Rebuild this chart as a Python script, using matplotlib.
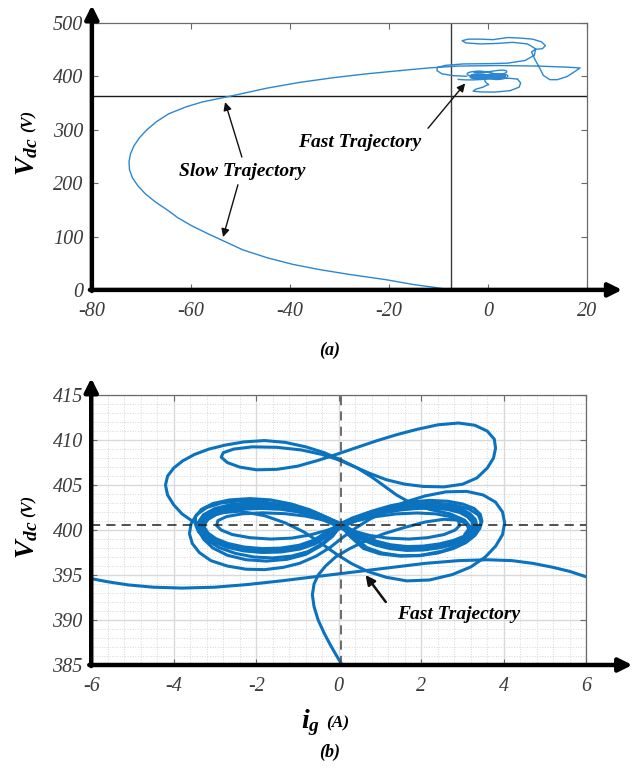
"""Vdc vs ig phase-plane trajectories: (a) full start-up, (b) zoom on the fast trajectory."""

import matplotlib.pyplot as plt
from matplotlib.ticker import MultipleLocator, AutoMinorLocator

# ============================================================================
# DATA
# ============================================================================

# (a) slow trajectory, from start-up (bottom) round the left nose to the tangle
slow_x = [-7.6, -11, -15, -20.5, -28, -34, -39.5, -44.5, -49.5, -53, -56.5, -59.8, -62.6,
          -64.8, -67.2, -69.2, -70.7, -71.8, -72.4, -72.5, -72.2, -71.5, -70.4, -68.9,
          -67.0, -64.5, -61.0, -57.8, -52.1, -44.7, -38, -31, -24.5, -17.8]
slow_v = [0, 5, 10, 19, 29, 38, 48, 60, 75, 90, 105, 120, 135,
          150, 165, 180, 195, 210, 225, 240, 255, 270, 285, 300,
          315, 330, 343, 352, 363, 378, 389, 398, 405, 411]

# (a) the wandering part before settling
tangle_x = [-17.8, -12, -6, 2, 10, 16, 18.6, 17.5, 16, 14, 12.5, 11.2, 10.5, 9.6,
            8.8, 9.6, 11.0, 11.6, 10.8, 9.0, 6.5, 4.0, 1.0, -1.5, -4.0, -5.2, -4.5,
            -1.5, 2.0, 5.0, 8.0, 9.6, 9.4, 7.5, 4.0, 0.0, -5.0, -8.5, -10.2, -10.3,
            -9.3, -7.0, -4.3]
tangle_v = [411, 416, 419.5, 420.5, 419.5, 417.5, 416, 409, 400, 394, 394, 402, 415, 430,
            446, 451, 452, 458, 465, 470, 472, 473, 469, 470, 470, 467, 463,
            461, 462, 464, 461, 452, 440, 430, 425, 424, 423.5, 421, 417, 411,
            405, 401.5, 400.5]
low_loop_x = [6.0, 6.6, 6.3, 4.5, 1.5, -1.5, -3.0, -2.5, -1.0, 0.08]
low_loop_v = [394.8, 388, 380, 373.5, 370.8, 371, 372.5, 376, 380, 385]

# (b) fast trajectory pieces
entry_x = [-6.0, -5.6, -5.1, -4.5, -3.8, -3.0, -2.2, -1.4, -0.6, 0.3, 1.2, 2.1, 2.9, 3.6,
           4.2, 4.7, 5.2, 5.6, 6.0]
entry_v = [394.6, 394.25, 393.9, 393.65, 393.55, 393.65, 393.95, 394.35, 394.8, 395.3,
           395.8, 396.3, 396.6, 396.7, 396.6, 396.3, 395.85, 395.4, 394.8]

rise_x = [0.08, -0.05, -0.2, -0.35, -0.5, -0.6, -0.64, -0.6, -0.5, -0.32, -0.08, 0.25,
          0.65, 1.1, 1.6, 2.1, 2.55, 2.9, 3.1, 3.15, 3.05]
rise_v = [385.0, 386.0, 387.2, 388.5, 390.0, 391.5, 392.8, 394.0, 395.0, 396.0, 397.0,
          397.9, 398.8, 399.6, 400.3, 400.9, 401.2, 401.1, 400.7, 400.1, 399.5]

up_outer_x = [-3.3, -3.55, -3.8, -4.0, -4.15, -4.2, -4.15, -4.0, -3.78, -3.5, -3.15,
              -2.75, -2.3, -1.8, -1.3, -0.8, -0.35, 0.05, 0.45, 0.8, 1.1, 1.4, 1.75,
              2.2, 2.7, 3.05, 3.2]
up_outer_v = [400.5, 401.0, 401.8, 402.8, 403.9, 405.0, 406.0, 406.9, 407.7, 408.4, 409.0,
              409.45, 409.8, 409.95, 409.75, 409.25, 408.6, 407.8, 406.9, 405.9, 404.9,
              403.9, 403.0, 402.3, 401.8, 401.1, 400.3]

up_loop_x = [0.0, -0.4, -0.9, -1.5, -2.1, -2.55, -2.8, -2.85, -2.7, -2.4, -2.0, -1.5,
             -1.0, -0.5, 0.0, 0.45, 0.9, 1.4, 1.9, 2.4, 2.9, 3.3, 3.6, 3.77, 3.8, 3.75,
             3.6, 3.35, 3.0, 2.55, 2.05, 1.6, 1.15, 0.75, 0.35, 0.0]
up_loop_v = [407.8, 408.4, 408.9, 409.2, 409.25, 409.0, 408.6, 408.1, 407.5, 407.0,
             406.7, 406.75, 407.1, 407.75, 408.5, 409.2, 409.9, 410.6, 411.2, 411.7,
             411.9, 411.65, 411.0, 410.1, 409.1, 408.0, 406.9, 405.8, 405.1, 404.8,
             404.85, 405.1, 405.6, 406.3, 407.1, 407.8]

# settled figure-eight (drawn thick, it is traced many times)
eight_x = [0.05, 0.35, 0.7, 1.1, 1.5, 1.9, 2.3, 2.65, 2.95, 3.15, 3.27, 3.3,
           3.24, 3.07, 2.8, 2.45, 2.05, 1.65, 1.25, 0.9, 0.6, 0.3, 0.05,
           -0.3, -0.6, -1.0, -1.4, -1.85, -2.3, -2.7, -3.0, -3.2, -3.3, -3.3,
           -3.2, -3.0, -2.7, -2.3, -1.85, -1.4, -0.95, -0.6, -0.3, 0.05]
eight_v = [400.5, 401.15, 401.7, 402.15, 402.45, 402.62, 402.65, 402.5, 402.15, 401.65,
           401.05, 400.4, 399.75, 399.15, 398.65, 398.25, 398.0, 397.95, 398.15, 398.55,
           399.1, 399.8, 400.5, 401.2, 401.8, 402.25, 402.52, 402.62, 402.55, 402.3,
           401.9, 401.35, 400.75, 400.2, 399.5, 398.85, 398.3, 397.9, 397.72, 397.78,
           398.1, 398.65, 399.5, 400.5]

eight_big_x = [0.05, 0.4, 0.8, 1.25, 1.7, 2.2, 2.65, 3.0, 3.28, 3.43, 3.47, 3.42,
               3.3, 3.08, 2.78, 2.4, 1.95, 1.5, 1.05, 0.68, 0.35, 0.05,
               -0.3, -0.7, -1.15, -1.65, -2.15, -2.65, -3.05, -3.33, -3.47, -3.48,
               -3.4, -3.2, -2.9, -2.5, -2.05, -1.6, -1.15, -0.75, -0.4, -0.15, 0.05]
eight_big_v = [400.5, 401.35, 402.1, 402.7, 403.1, 403.3, 403.2, 402.9, 402.4, 401.75,
               401.0, 400.2, 399.4, 398.6, 397.95, 397.45, 397.15, 397.15, 397.45,
               398.05, 399.3, 400.5, 401.4, 402.25, 402.9, 403.35, 403.5, 403.35,
               402.95, 402.3, 401.5, 400.7, 399.8, 398.9, 398.05, 397.4, 397.0, 396.9,
               397.1, 397.6, 398.5, 399.5, 400.5]

eight_mid_x = [0.05, 0.4, 0.85, 1.35, 1.85, 2.35, 2.8, 3.15, 3.38, 3.45, 3.38, 3.2, 2.9,
               2.5, 2.0, 1.5, 1.0, 0.6, 0.25, 0.05, -0.25, -0.65, -1.1, -1.6, -2.1, -2.6,
               -3.0, -3.28, -3.4, -3.4, -3.28, -3.05, -2.7, -2.25, -1.75, -1.25, -0.8,
               -0.45, -0.15, 0.05]
eight_mid_v = [400.5, 401.3, 402.0, 402.55, 402.9, 403.0, 402.8, 402.35, 401.7, 400.9,
               400.0, 399.1, 398.3, 397.65, 397.2, 397.1, 397.35, 397.95, 399.4, 400.5,
               401.3, 402.05, 402.6, 402.95, 403.05, 402.85, 402.4, 401.7, 400.9, 400.0,
               399.0, 398.0, 397.2, 396.7, 396.55, 396.75, 397.3, 398.2, 399.3, 400.5]

eight_small_x = [0.05, 0.45, 0.9, 1.4, 1.9, 2.35, 2.7, 2.9, 2.93, 2.82, 2.55, 2.15, 1.7,
                 1.2, 0.75, 0.35, 0.05, -0.35, -0.8, -1.3, -1.85, -2.35, -2.72, -2.93,
                 -2.96, -2.85, -2.58, -2.15, -1.65, -1.15, -0.7, -0.3, 0.05]
eight_small_v = [400.5, 401.05, 401.5, 401.8, 401.9, 401.8, 401.5, 401.05, 400.5, 400.0,
                 399.5, 399.15, 399.0, 399.1, 399.4, 399.9, 400.5, 401.1, 401.55, 401.82,
                 401.92, 401.8, 401.5, 401.05, 400.5, 400.0, 399.5, 399.15, 399.0, 399.1,
                 399.45, 399.95, 400.5]

eight_outer_x = [0.05, -0.35, -0.8, -1.3, -1.85, -2.4, -2.85, -3.2, -3.45, -3.58, -3.62,
                 -3.55, -3.38, -3.1, -2.7, -2.25, -1.8, -1.35, -0.95, -0.55, -0.2, 0.1,
                 0.4, 0.75, 1.15, 1.6, 2.1, 2.6, 3.1, 3.5, 3.8, 3.97, 4.02, 3.97, 3.8,
                 3.55, 3.2, 2.75, 2.2, 1.65, 1.15, 0.7, 0.3, -0.05, -0.45, -0.85, -1.3,
                 -1.8, -2.4, -2.9, -3.25, -3.35]
eight_outer_v = [400.5, 401.3, 402.1, 402.75, 403.15, 403.25, 403.0, 402.5, 401.7, 400.7,
                 399.6, 398.5, 397.5, 396.6, 396.0, 395.65, 395.6, 395.85, 396.3, 397.1,
                 398.1, 399.2, 400.2, 401.2, 402.2, 403.1, 403.8, 404.25, 404.3, 403.9,
                 403.1, 402.0, 400.8, 399.5, 398.2, 397.0, 395.9, 395.05, 394.45, 394.35,
                 394.75, 395.4, 396.3, 397.3, 398.6, 399.8, 400.8, 401.6, 402.1, 401.9,
                 401.1, 400.4]

fast_pieces = [(entry_x, entry_v), (rise_x, rise_v), (up_outer_x, up_outer_v),
               (up_loop_x, up_loop_v), (eight_big_x, eight_big_v),
               (eight_mid_x, eight_mid_v), (eight_small_x, eight_small_v),
               (eight_outer_x, eight_outer_v)]

# reference lines
HLINE_A = 363
VLINE_A = -7.5
HLINE_B = 400.55
VLINE_B = 0.05

# ============================================================================
# STYLE
# ============================================================================

plt.rcParams['font.family'] = 'Liberation Serif'
plt.rcParams['axes.unicode_minus'] = False
plt.rcParams['mathtext.fontset'] = 'custom'
plt.rcParams['mathtext.it'] = 'Liberation Serif:italic:bold'
plt.rcParams['mathtext.rm'] = 'Liberation Serif:bold'

LINE_A = '#2b87d1'
LINE_B = '#0b72bf'
TICK_COLOR = '#3c3c3c'
FRAME = '#6a6a6a'


def frame_axes(ax, up_end, right_end):
    """Thin grey frame on top/right, thick black arrowed axes on left/bottom."""
    for side in ['top', 'right']:
        ax.spines[side].set_color(FRAME)
        ax.spines[side].set_linewidth(0.9)
    for side in ['left', 'bottom']:
        ax.spines[side].set_visible(False)
    ax.tick_params(which='both', direction='in', top=True, right=True,
                   color=FRAME, labelcolor=TICK_COLOR, labelsize=14.5)
    ax.tick_params(which='major', length=4)
    ax.tick_params(which='minor', length=0)
    ax.tick_params(axis='x', pad=9)
    ax.tick_params(axis='y', pad=6)
    for lab in ax.get_xticklabels() + ax.get_yticklabels():
        lab.set_fontstyle('italic')
    arrow = dict(arrowstyle='-|>', lw=3.2, color='black', mutation_scale=20,
                 shrinkA=0, shrinkB=0)
    ax.annotate('', xy=(0, up_end), xytext=(0, -0.004), xycoords='axes fraction',
                arrowprops=arrow, annotation_clip=False)
    ax.annotate('', xy=(right_end, 0), xytext=(-0.004, 0), xycoords='axes fraction',
                arrowprops=arrow, annotation_clip=False)


fig = plt.figure(figsize=(6.38, 7.71), dpi=100)

# ============================================================================
# (a) full trajectory
# ============================================================================

ax1 = fig.add_axes([0.144, 0.624, 0.776, 0.346])
ax1.set_xlim(-80, 20)
ax1.set_ylim(0, 500)
ax1.xaxis.set_major_locator(MultipleLocator(20))
ax1.yaxis.set_major_locator(MultipleLocator(100))

ax1.axhline(HLINE_A, color='#1a1a1a', lw=1.0)
ax1.axvline(VLINE_A, color='#3a3a3a', lw=1.0)

line_a = dict(color=LINE_A, lw=1.0, solid_joinstyle='round')
ax1.plot(slow_x, slow_v, **line_a)
ax1.plot(tangle_x, tangle_v, **line_a)
ax1.plot(low_loop_x, low_loop_v, **line_a)
for px, pv in fast_pieces:
    ax1.plot(px, pv, **line_a)
ax1.plot(eight_x, eight_v, color=LINE_A, lw=2.5, solid_joinstyle='round')

frame_axes(ax1, 1.067, 1.071)

ax1.text(-49.7, 221, 'Slow Trajectory', fontsize=14, fontweight='bold',
         fontstyle='italic', ha='center', va='center')
thin_arrow = dict(arrowstyle='-|>', lw=1.0, color='#111111', mutation_scale=12,
                  shrinkA=0, shrinkB=0)
ax1.annotate('', xy=(-53.1, 352), xytext=(-49.7, 249), arrowprops=thin_arrow)
ax1.annotate('', xy=(-53.5, 99), xytext=(-50.5, 197), arrowprops=thin_arrow)

ax1.text(-25.9, 277, 'Fast Trajectory', fontsize=14, fontweight='bold',
         fontstyle='italic', ha='center', va='center')
ax1.annotate('', xy=(-4.6, 387), xytext=(-12.1, 303), arrowprops=thin_arrow)

ax1.text(-0.131, 0.50, r'$V_{dc}$', rotation=90, fontsize=20, ha='center', va='center',
         transform=ax1.transAxes)
ax1.text(-0.128, 0.635, '(V)', rotation=90, fontsize=12, fontweight='bold',
         fontstyle='italic', ha='center', va='center', transform=ax1.transAxes)
ax1.text(0.481, -0.225, '(a)', fontsize=13, fontweight='bold', fontstyle='italic',
         ha='center', va='center', transform=ax1.transAxes)

# ============================================================================
# (b) zoom on the fast trajectory
# ============================================================================

ax2 = fig.add_axes([0.143, 0.1375, 0.776, 0.350])
ax2.set_xlim(-6, 6)
ax2.set_ylim(385, 415)
ax2.xaxis.set_major_locator(MultipleLocator(2))
ax2.yaxis.set_major_locator(MultipleLocator(5))
ax2.xaxis.set_minor_locator(AutoMinorLocator(5))
ax2.yaxis.set_minor_locator(AutoMinorLocator(5))
ax2.grid(True, which='major', color='#d9d9d9', lw=1.0)
ax2.grid(True, which='minor', color='#d6d6d6', lw=0.7, linestyle=':')
ax2.set_axisbelow(True)

line_b = dict(color=LINE_B, lw=2.2, solid_joinstyle='round', solid_capstyle='round')
for px, pv in fast_pieces:
    ax2.plot(px, pv, **line_b)
ax2.plot(eight_x, eight_v, color=LINE_B, lw=5.0, solid_joinstyle='round')

ax2.axhline(HLINE_B, color='#222222', lw=1.1, linestyle=(0, (6, 4)))
ax2.axvline(VLINE_B, color='#444444', lw=1.1, linestyle=(0, (6, 4)))

frame_axes(ax2, 1.063, 1.093)

ax2.text(2.91, 390.6, 'Fast Trajectory', fontsize=14, fontweight='bold',
         fontstyle='italic', ha='center', va='center')
ax2.annotate('', xy=(0.65, 395.0), xytext=(1.14, 392.0),
             arrowprops=dict(arrowstyle='-|>', lw=1.8, color='#111111',
                             mutation_scale=14, shrinkA=0, shrinkB=0))

ax2.text(-0.129, 0.463, r'$V_{dc}$', rotation=90, fontsize=20, ha='center', va='center',
         transform=ax2.transAxes)
ax2.text(-0.127, 0.59, '(V)', rotation=90, fontsize=12, fontweight='bold',
         fontstyle='italic', ha='center', va='center', transform=ax2.transAxes)
ax2.text(0.442, -0.212, r'$i_g$', fontsize=20, ha='center', va='center',
         transform=ax2.transAxes)
ax2.text(0.497, -0.217, '(A)', fontsize=12.5, fontweight='bold', fontstyle='italic',
         ha='center', va='center', transform=ax2.transAxes)
ax2.text(0.481, -0.322, '(b)', fontsize=13, fontweight='bold', fontstyle='italic',
         ha='center', va='center', transform=ax2.transAxes)

plt.savefig('out.png', dpi=100)
